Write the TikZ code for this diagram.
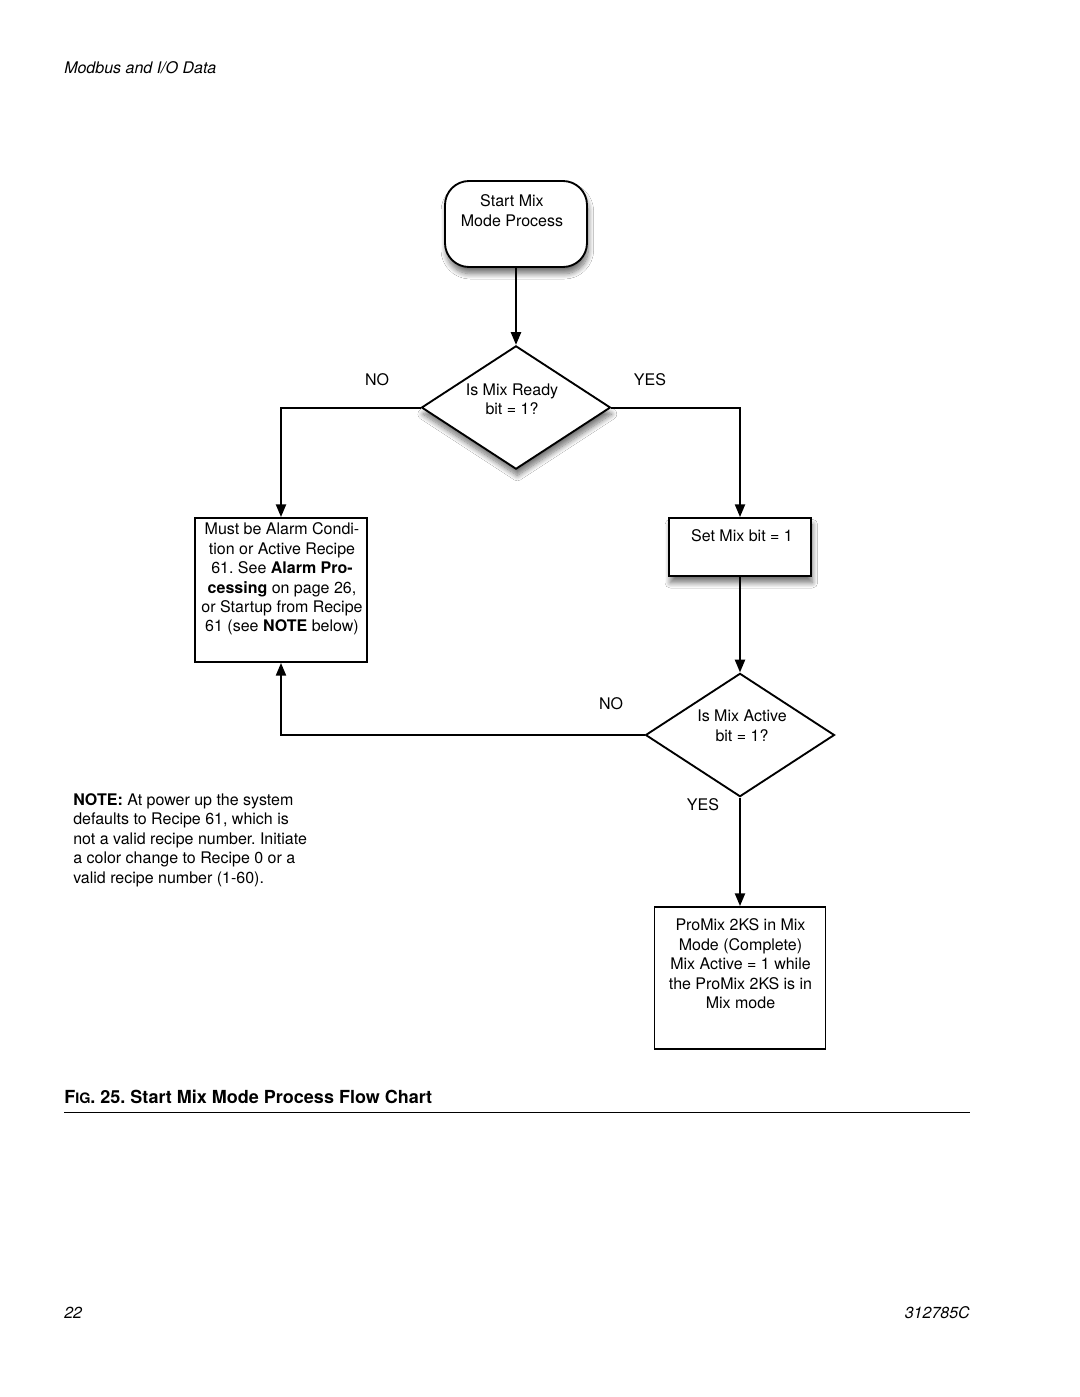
\documentclass[tikz,border=0pt]{standalone}
\usepackage{fontspec}
\setmainfont{TeX Gyre Heros}
\usetikzlibrary{shapes.geometric,arrows.meta,shadows.blur}
\frenchspacing

\begin{document}
\begin{tikzpicture}
  [x=0.75pt, y=-0.75pt,
   font=\fontsize{12}{14.6}\selectfont,
   process/.style={draw, line width=1.4pt, fill=white, inner sep=0pt},
   decision/.style={draw, diamond, aspect=1.54, line width=1.4pt, fill=white,
     inner sep=0pt, minimum width=141.75pt, minimum height=92.5pt},
   shade/.style={blur shadow={shadow xshift=1pt, shadow yshift=-5pt,
     shadow blur radius=4pt, shadow blur steps=10, shadow opacity=55}},
   txt/.style={align=center, inner sep=0pt},
   flow/.style={line width=1.5pt, -{Triangle[width=7.5pt,length=9.5pt]}}]
  \path[use as bounding box, fill=white] (0,0) rectangle (1080,1397);
  \node[anchor=west, inner sep=0pt, font=\fontsize{12}{14}\selectfont\itshape] (header) at (64,68) {Modbus and I/O Data};

  \node[process, rounded corners=18pt, minimum width=106.5pt, minimum height=64.5pt, shade] (start) at (516,224) {};
  \node[txt] (starttext) at (512,210.5) {Start Mix\\Mode Process};
  \node[decision, shade] (ready) at (516,407.5) {};
  \node[txt] (readytext) at (512,399.5) {Is Mix Ready\\bit = 1?};
  \node[inner sep=0pt] (readyno) at (377,380) {NO};
  \node[inner sep=0pt] (readyyes) at (650,380) {YES};

  \node[process, minimum width=129pt, minimum height=108pt] (alarm) at (281,590) {};
  \node[txt] (alarmtext) at (282,579) {Must be Alarm Condi-\\tion or Active Recipe\\61. See \textbf{Alarm Pro-}\\\textbf{cessing} on page 26,\\or Startup from Recipe\\61 (see \textbf{NOTE} below)};
  \node[process, minimum width=106.5pt, minimum height=43.5pt, shade] (setmix) at (740,547) {};
  \node[txt] (setmixtext) at (742,536) {Set Mix bit = 1};

  \node[decision] (active) at (740,735) {};
  \node[txt] (activetext) at (742,726) {Is Mix Active\\bit = 1?};
  \node[inner sep=0pt] (activeno) at (611,704) {NO};
  \node[inner sep=0pt] (activeyes) at (703,805) {YES};

  \node[process, minimum width=128.25pt, minimum height=106.5pt] (done) at (740,978) {};
  \node[txt] (donetext) at (740.5,964) {ProMix 2KS in Mix\\Mode (Complete)\\Mix Active = 1 while\\the ProMix 2KS is in\\Mix mode};

  \node[align=left, anchor=west, inner sep=0pt] (note) at (73,840) {\textbf{NOTE:} At power up the system\\defaults to Recipe 61, which is\\not a valid recipe number. Initiate\\a color change to Recipe 0 or a\\valid recipe number (1-60).};

  \draw[flow] (start) -- (ready);
  \draw[flow] (ready.west) -| (alarm.north);
  \draw[flow] (ready.east) -| (setmix.north);
  \draw[flow] (setmix) -- (active);
  \draw[flow] (active.west) -| (alarm.south);
  \draw[flow] (active) -- (done);

  \node[anchor=west, inner sep=0pt, font=\fontsize{13.5}{16}\selectfont\bfseries] (caption) at (64,1097) {F{\fontsize{10.8}{13}\selectfont IG}. 25. Start Mix Mode Process Flow Chart};
  \draw[line width=0.7pt] (64,1112) -- (970,1112);
  \node[anchor=west, inner sep=0pt, font=\fontsize{12}{14}\selectfont\itshape] (pageno) at (64,1313) {22};
  \node[anchor=east, inner sep=0pt, font=\fontsize{12}{14}\selectfont\itshape] (docno) at (970,1313) {312785C};
\end{tikzpicture}
\end{document}
